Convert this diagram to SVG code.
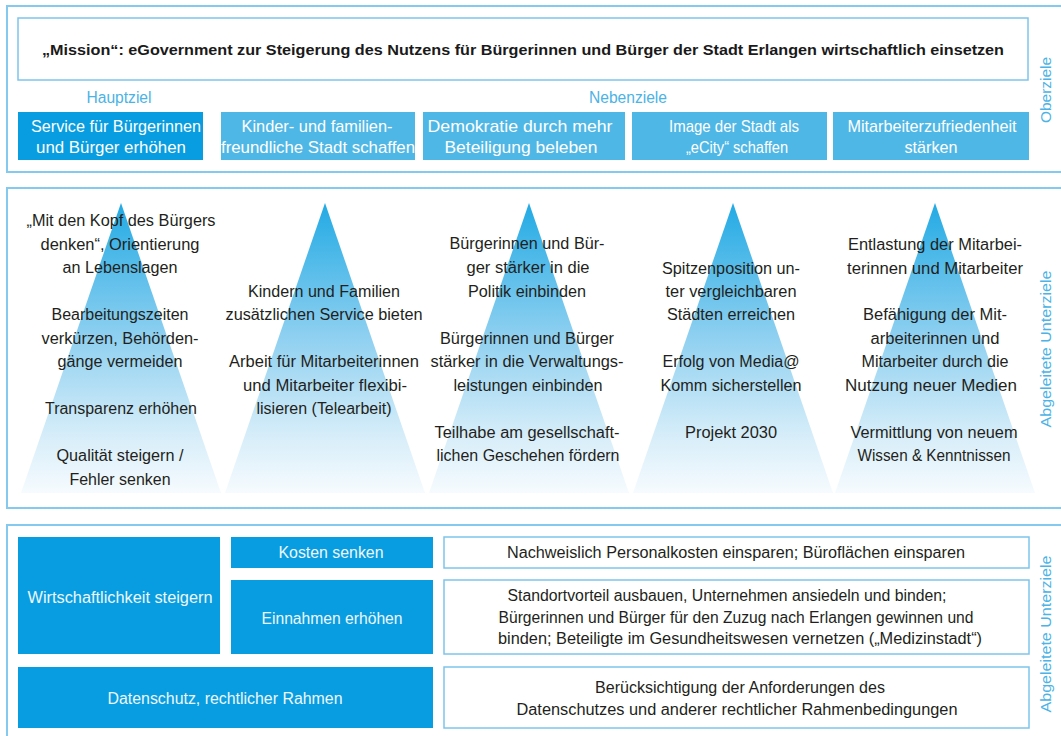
<svg xmlns="http://www.w3.org/2000/svg" width="1061" height="736" viewBox="0 0 1061 736">
<defs>
<linearGradient id="tg" x1="0" y1="0" x2="0" y2="1">
<stop offset="0" stop-color="#22aae4"/>
<stop offset="0.45" stop-color="#8ccff0"/>
<stop offset="0.8" stop-color="#d6edf9"/>
<stop offset="1" stop-color="#f6fbfe"/>
</linearGradient>
<style>
.frame{fill:none;stroke:#86c9ee;stroke-width:2}
.wbox{fill:#fff;stroke:#7ec5ec;stroke-width:1.5}
.dark{fill:#079de0}
.light{fill:#4fb7e6}
.tri{fill:url(#tg)}
text{font-family:"Liberation Sans",Arial,sans-serif;text-anchor:middle}
.t{font-size:16px;fill:#231f20}
.w{font-size:17px;fill:#ffffff}
.wb{font-size:16px;fill:#eef7fc}
.lbl{font-size:16px;fill:#4cb3e6}
.side{font-size:15px;fill:#4cb3e6}
.mis{font-size:15px;font-weight:bold;fill:#1a1a1a}
</style>
</defs>
<rect width="1061" height="736" fill="#ffffff"/>

<!-- Section frames -->
<g id="frames">
<rect class="frame" x="7" y="6" width="1070" height="166"/>
<rect class="frame" x="7" y="188" width="1070" height="320"/>
<rect class="frame" x="7" y="525" width="1070" height="230"/>
</g>

<!-- Top section: Oberziele -->
<g id="mission">
<rect class="wbox" x="18" y="18" width="1010" height="62"/>
<text class="mis" x="523" y="55" textLength="962" lengthAdjust="spacingAndGlyphs">„Mission“: eGovernment zur Steigerung des Nutzens für Bürgerinnen und Bürger der Stadt Erlangen wirtschaftlich einsetzen</text>
</g>
<g id="labels-top">
<text class="lbl" x="119" y="103" textLength="65" lengthAdjust="spacingAndGlyphs">Hauptziel</text>
<text class="lbl" x="628" y="103" textLength="78" lengthAdjust="spacingAndGlyphs">Nebenziele</text>
<text class="side" transform="translate(1051,90) rotate(-90)" textLength="66" lengthAdjust="spacingAndGlyphs">Oberziele</text>
</g>
<g id="ziel1">
<rect class="dark" x="18" y="112" width="185" height="48"/>
<text class="w" x="116" y="132" textLength="170" lengthAdjust="spacingAndGlyphs">Service für Bürgerinnen</text>
<text class="w" x="111" y="153" textLength="150" lengthAdjust="spacingAndGlyphs">und Bürger erhöhen</text>
</g>
<g id="ziel2">
<rect class="light" x="221" y="112" width="194" height="48"/>
<text class="w" x="317" y="132" textLength="151" lengthAdjust="spacingAndGlyphs">Kinder- und familien-</text>
<text class="w" x="318" y="153" textLength="194" lengthAdjust="spacingAndGlyphs">freundliche Stadt schaffen</text>
</g>
<g id="ziel3">
<rect class="light" x="423" y="112" width="202" height="48"/>
<text class="w" x="520" y="132" textLength="185" lengthAdjust="spacingAndGlyphs">Demokratie durch mehr</text>
<text class="w" x="521" y="153" textLength="153" lengthAdjust="spacingAndGlyphs">Beteiligung beleben</text>
</g>
<g id="ziel4">
<rect class="light" x="632" y="112" width="195" height="48"/>
<text class="w" x="734" y="132" textLength="130" lengthAdjust="spacingAndGlyphs">Image der Stadt als</text>
<text class="w" x="737" y="153" textLength="102" lengthAdjust="spacingAndGlyphs">„eCity“ schaffen</text>
</g>
<g id="ziel5">
<rect class="light" x="833" y="112" width="196" height="48"/>
<text class="w" x="932" y="132" textLength="169" lengthAdjust="spacingAndGlyphs">Mitarbeiterzufriedenheit</text>
<text class="w" x="931" y="153" textLength="53" lengthAdjust="spacingAndGlyphs">stärken</text>
</g>

<!-- Middle section: pyramids -->
<g id="pyr1">
<polygon class="tri" points="121,203 221,493 21,493"/>
<text class="t" x="121" y="226" textLength="189" lengthAdjust="spacingAndGlyphs">„Mit den Kopf des Bürgers</text>
<text class="t" x="120" y="250" textLength="159" lengthAdjust="spacingAndGlyphs">denken“, Orientierung</text>
<text class="t" x="120" y="273" textLength="115" lengthAdjust="spacingAndGlyphs">an Lebenslagen</text>
<text class="t" x="120" y="320" textLength="137" lengthAdjust="spacingAndGlyphs">Bearbeitungszeiten</text>
<text class="t" x="120" y="344" textLength="157" lengthAdjust="spacingAndGlyphs">verkürzen, Behörden-</text>
<text class="t" x="120" y="367" textLength="125" lengthAdjust="spacingAndGlyphs">gänge vermeiden</text>
<text class="t" x="121" y="414" textLength="152" lengthAdjust="spacingAndGlyphs">Transparenz erhöhen</text>
<text class="t" x="120" y="461" textLength="127" lengthAdjust="spacingAndGlyphs">Qualität steigern /</text>
<text class="t" x="120" y="485" textLength="101" lengthAdjust="spacingAndGlyphs">Fehler senken</text>
</g>
<g id="pyr2">
<polygon class="tri" points="325,203 425,493 225,493"/>
<text class="t" x="324" y="297" textLength="152" lengthAdjust="spacingAndGlyphs">Kindern und Familien</text>
<text class="t" x="324" y="320" textLength="197" lengthAdjust="spacingAndGlyphs">zusätzlichen Service bieten</text>
<text class="t" x="324" y="367" textLength="190" lengthAdjust="spacingAndGlyphs">Arbeit für Mitarbeiterinnen</text>
<text class="t" x="325" y="391" textLength="164" lengthAdjust="spacingAndGlyphs">und Mitarbeiter flexibi-</text>
<text class="t" x="324" y="414" textLength="135" lengthAdjust="spacingAndGlyphs">lisieren (Telearbeit)</text>
</g>
<g id="pyr3">
<polygon class="tri" points="529,203 629,493 429,493"/>
<text class="t" x="527" y="249" textLength="155" lengthAdjust="spacingAndGlyphs">Bürgerinnen und Bür-</text>
<text class="t" x="528" y="273" textLength="123" lengthAdjust="spacingAndGlyphs">ger stärker in die</text>
<text class="t" x="527" y="297" textLength="118" lengthAdjust="spacingAndGlyphs">Politik einbinden</text>
<text class="t" x="527" y="344" textLength="174" lengthAdjust="spacingAndGlyphs">Bürgerinnen und Bürger</text>
<text class="t" x="527" y="367" textLength="193" lengthAdjust="spacingAndGlyphs">stärker in die Verwaltungs-</text>
<text class="t" x="528" y="391" textLength="149" lengthAdjust="spacingAndGlyphs">leistungen einbinden</text>
<text class="t" x="527" y="438" textLength="185" lengthAdjust="spacingAndGlyphs">Teilhabe am gesellschaft-</text>
<text class="t" x="528" y="461" textLength="183" lengthAdjust="spacingAndGlyphs">lichen Geschehen fördern</text>
</g>
<g id="pyr4">
<polygon class="tri" points="733,203 833,493 633,493"/>
<text class="t" x="731" y="274" textLength="138" lengthAdjust="spacingAndGlyphs">Spitzenposition un-</text>
<text class="t" x="731" y="297" textLength="131" lengthAdjust="spacingAndGlyphs">ter vergleichbaren</text>
<text class="t" x="731" y="320" textLength="128" lengthAdjust="spacingAndGlyphs">Städten erreichen</text>
<text class="t" x="731" y="367" textLength="137" lengthAdjust="spacingAndGlyphs">Erfolg von Media@</text>
<text class="t" x="731" y="391" textLength="141" lengthAdjust="spacingAndGlyphs">Komm sicherstellen</text>
<text class="t" x="731" y="438" textLength="92" lengthAdjust="spacingAndGlyphs">Projekt 2030</text>
</g>
<g id="pyr5">
<polygon class="tri" points="935,203 1035,493 835,493"/>
<text class="t" x="935" y="250" textLength="174" lengthAdjust="spacingAndGlyphs">Entlastung der Mitarbei-</text>
<text class="t" x="935" y="274" textLength="176" lengthAdjust="spacingAndGlyphs">terinnen und Mitarbeiter</text>
<text class="t" x="935" y="320" textLength="144" lengthAdjust="spacingAndGlyphs">Befähigung der Mit-</text>
<text class="t" x="935" y="344" textLength="129" lengthAdjust="spacingAndGlyphs">arbeiterinnen und</text>
<text class="t" x="935" y="367" textLength="147" lengthAdjust="spacingAndGlyphs">Mitarbeiter durch die</text>
<text class="t" x="931" y="391" textLength="172" lengthAdjust="spacingAndGlyphs">Nutzung neuer Medien</text>
<text class="t" x="934" y="438" textLength="167" lengthAdjust="spacingAndGlyphs">Vermittlung von neuem</text>
<text class="t" x="934" y="461" textLength="153" lengthAdjust="spacingAndGlyphs">Wissen &amp; Kenntnissen</text>
</g>
<text class="side" transform="translate(1051,349) rotate(-90)" textLength="157" lengthAdjust="spacingAndGlyphs">Abgeleitete Unterziele</text>

<!-- Bottom section -->
<g id="wirtschaftlichkeit">
<rect class="dark" x="18" y="537" width="202" height="117"/>
<text class="wb" x="120" y="603" textLength="185" lengthAdjust="spacingAndGlyphs">Wirtschaftlichkeit steigern</text>
</g>
<g id="kosten">
<rect class="dark" x="231" y="537" width="202" height="31"/>
<text class="wb" x="331" y="558" textLength="105" lengthAdjust="spacingAndGlyphs">Kosten senken</text>
</g>
<g id="einnahmen">
<rect class="dark" x="231" y="580" width="202" height="74"/>
<text class="wb" x="332" y="624" textLength="141" lengthAdjust="spacingAndGlyphs">Einnahmen erhöhen</text>
</g>
<g id="datenschutz">
<rect class="dark" x="18" y="667" width="415" height="61"/>
<text class="wb" x="225" y="704" textLength="235" lengthAdjust="spacingAndGlyphs">Datenschutz, rechtlicher Rahmen</text>
</g>
<g id="kosten-detail">
<rect class="wbox" x="444" y="537" width="585" height="31"/>
<text class="t" x="736" y="558" textLength="458" lengthAdjust="spacingAndGlyphs">Nachweislich Personalkosten einsparen; Büroflächen einsparen</text>
</g>
<g id="einnahmen-detail">
<rect class="wbox" x="444" y="580" width="585" height="74"/>
<text class="t" x="727" y="601" textLength="439" lengthAdjust="spacingAndGlyphs">Standortvorteil ausbauen, Unternehmen ansiedeln und binden;</text>
<text class="t" x="736" y="623" textLength="475" lengthAdjust="spacingAndGlyphs">Bürgerinnen und Bürger für den Zuzug nach Erlangen gewinnen und</text>
<text class="t" x="740" y="644" textLength="484" lengthAdjust="spacingAndGlyphs">binden; Beteiligte im Gesundheitswesen vernetzen („Medizinstadt“)</text>
</g>
<g id="datenschutz-detail">
<rect class="wbox" x="444" y="667" width="585" height="61"/>
<text class="t" x="740" y="693" textLength="290" lengthAdjust="spacingAndGlyphs">Berücksichtigung der Anforderungen des</text>
<text class="t" x="737" y="715" textLength="441" lengthAdjust="spacingAndGlyphs">Datenschutzes und anderer rechtlicher Rahmenbedingungen</text>
</g>
<text class="side" transform="translate(1051,634) rotate(-90)" textLength="157" lengthAdjust="spacingAndGlyphs">Abgeleitete Unterziele</text>
<g id="connectors"></g>
</svg>
